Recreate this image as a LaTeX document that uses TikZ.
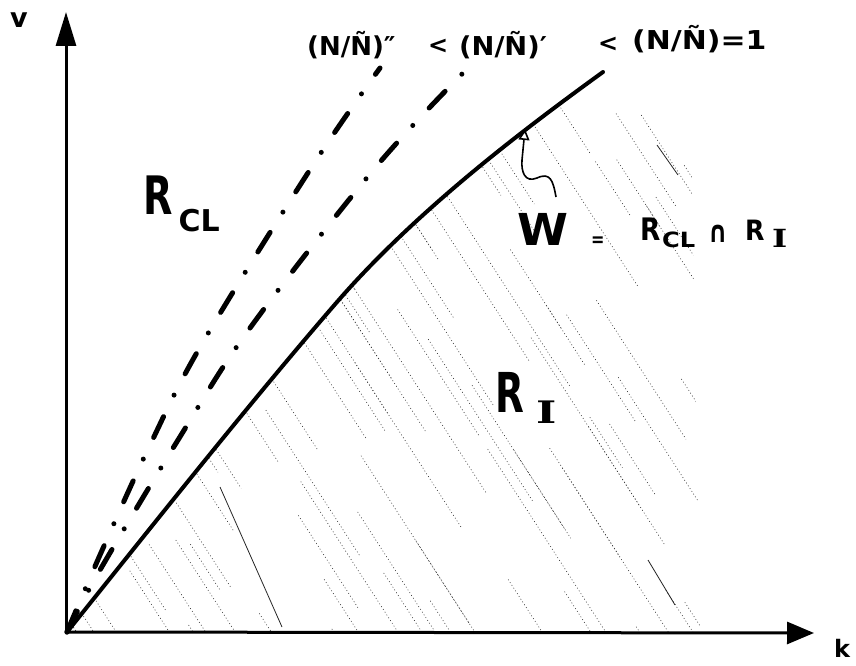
\documentclass[tikz,border=0pt]{standalone}
\usepackage{fontspec}
\setmainfont{DejaVu Sans}
\newfontfamily\serifI{DejaVu Serif}
\usetikzlibrary{arrows.meta}
\newcommand{\fs}[1]{\fontsize{#1}{#1}\selectfont\bfseries}
\begin{document}
\begin{tikzpicture}[x=1pt,y=-1pt,
  axis/.style={line width=3pt},
  bound/.style={line width=4pt, line cap=round},
  dashdot/.style={line width=5pt, line cap=round, dash pattern=on 23pt off 24pt on 0pt off 24pt},
  hatch/.style={black!80, line width=0.6pt, dash pattern=on 0.9pt off 2.4pt},
  hatchdark/.style={black!85, line width=0.8pt},
  lbl/.style={inner sep=0pt, anchor=base west},
]
\useasboundingbox (0,0) rectangle (856,666);

% hatching of R_I
\pgfmathsetseed{42}
\begin{scope}
\clip (67,632) .. controls (157,520) and (247,406) .. (337,302)
  .. controls (417,210) and (523,130) .. (603,72)
  -- (690,72) -- (700,632) -- cycle;
\foreach \i in {0,...,80}{
  \pgfmathsetmacro\xo{-345+\i*12.8+6*rnd}
  \pgfmathsetmacro\ya{72+560*rnd}
  \pgfmathsetmacro\la{50+220*rnd}
  \pgfmathsetmacro\yb{72+560*rnd}
  \pgfmathsetmacro\lb{40+160*rnd}
  \draw[hatch] (\xo+\ya/1.55,\ya) -- ++(0.542*\la,0.840*\la);
  \draw[hatch] (\xo+\yb/1.55,\yb) -- ++(0.542*\lb,0.840*\lb);
}
\end{scope}
\coordinate (h1a) at (220,487); \coordinate (h1b) at (282,627);
\coordinate (h2a) at (648,560); \coordinate (h2b) at (675,605);
\coordinate (h3a) at (657,145); \coordinate (h3b) at (678,175);
\draw[hatchdark] (h1a) -- (h1b);
\draw[hatchdark] (h2a) -- (h2b);
\draw[hatchdark] (h3a) -- (h3b);

% axes
\coordinate (O) at (66,632);
\coordinate (Ytip) at (66,12);
\coordinate (Xtip) at (814,633);
\draw[axis, -{Triangle[length=34pt,width=20pt]}] (O) -- (Ytip);
\draw[axis, -{Triangle[length=27pt,width=22pt]}] (O) -- (Xtip);

% curves
\draw[dashdot] plot[smooth, tension=0.6] coordinates {(67,632) (100,555) (150,445) (203,342) (313,165) (380,68)};
\draw[dashdot] plot[smooth, tension=0.6] coordinates {(67,632) (100,570) (178,440) (250,328) (375,168) (466,70)};
\draw[bound] (67,632) .. controls (157,520) and (247,406) .. (337,302)
  .. controls (417,210) and (523,130) .. (603,72);

% wiggly pointer
\coordinate (Wtail) at (556,197);
\coordinate (Wtip) at (525,129);
\draw[line width=1.6pt, -{Triangle[open,length=11pt,width=11pt]}]
  (Wtail) .. controls (553,180) and (550,172) .. (537,178)
  .. controls (525,183) and (521,172) .. (522,160) -- (Wtip);

% axis labels
\node[lbl, font=\fs{27}] (v) at (10,28) {v};
\node[lbl, font=\fs{24}] (k) at (834,657) {k};

% top labels
\node[lbl, font=\fs{26}] (lab1) at (307,56) {(N/Ñ)″};
\node[lbl, font=\fs{24}] (lt1) at (428,54) {<};
\node[lbl, font=\fs{26}] (lab2) at (459,56) {\scalebox{1.05}[1]{(N/Ñ)′}};
\node[lbl, font=\fs{24}] (lt2) at (598,52) {<};
\node[lbl, font=\fs{26}] (lab3) at (632,50) {\scalebox{1.15}[1]{(N/Ñ)=1}};

% region labels
\node[lbl] (Rcl) at (143,214) {\fs{53}\scalebox{0.72}[1]{R}\hspace{6pt}\raisebox{-17pt}{\fs{30}CL}};
\node[lbl] (Ri) at (495,412) {\fs{55}\scalebox{0.68}[1]{R}\hspace{12pt}\raisebox{-11pt}{\fs{31}\serifI\scalebox{1.4}[1]{I}}};

% W = R_CL cap R_I
\node[lbl, font=\fs{44}] (W) at (517,245) {\scalebox{1.05}[1]{W}};
\node[lbl, font=\fs{20}] (eq) at (591,246) {\scalebox{0.8}[1]{=}};
\node[lbl, font=\fs{31}] (R2) at (640,240) {\scalebox{0.85}[1]{R}};
\node[lbl, font=\fs{21}] (CL2) at (662,247) {\scalebox{1.15}[1]{CL}};
\node[lbl, font=\fs{30}] (cap) at (708,242) {\scalebox{0.8}[1]{∩}};
\node[lbl, font=\fs{28}] (R3) at (745,240) {\scalebox{0.9}[1]{R}};
\node[lbl, font=\fs{25}] (I3) at (772,247) {\serifI\scalebox{1.3}[1]{I}};
\end{tikzpicture}
\end{document}
